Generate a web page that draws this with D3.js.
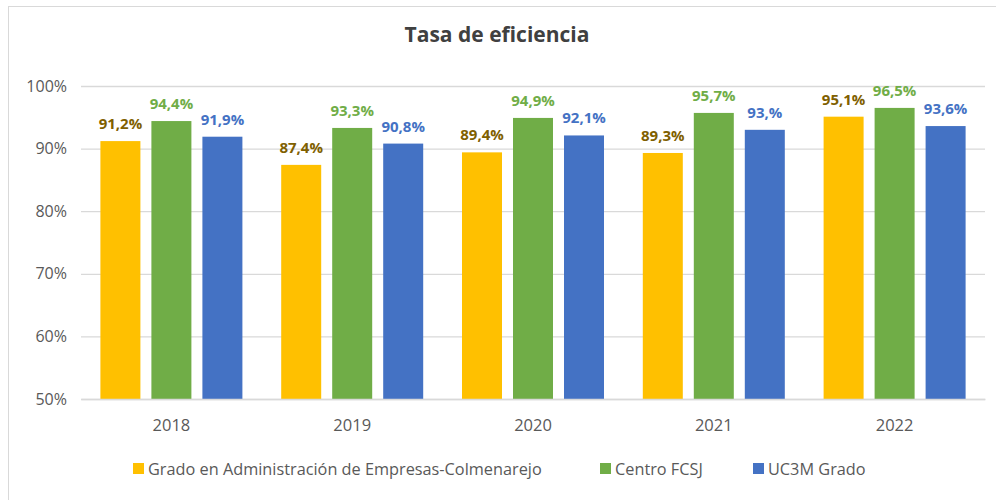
<!DOCTYPE html>
<html lang="es">
<head>
<meta charset="UTF-8">
<script src="https://d3js.org/d3.v7.min.js"></script>
<style>
  body { margin: 0; background: #fff; }
  svg { display: block; font-family: "Open Sans", "Noto Sans", sans-serif; }
</style>
</head>
<body>
<div id="chart"></div>
<script>
// datos
const years = ["2018", "2019", "2020", "2021", "2022"];
const seriesNames = ["Grado en Administración de Empresas-Colmenarejo", "Centro FCSJ", "UC3M Grado"];
const gradoADE = [91.2, 87.4, 89.4, 89.3, 95.1];
const centroFCSJ = [94.4, 93.3, 94.9, 95.7, 96.5];
const uc3mGrado = [91.9, 90.8, 92.1, 93.0, 93.6];
const labelsADE = ["91,2%", "87,4%", "89,4%", "89,3%", "95,1%"];
const labelsFCSJ = ["94,4%", "93,3%", "94,9%", "95,7%", "96,5%"];
const labelsUC3M = ["91,9%", "90,8%", "92,1%", "93,%", "93,6%"];
const yTicks = [50, 60, 70, 80, 90, 100];

const barColors = ["#ffc000", "#70ad47", "#4472c4"];
const labelColors = ["#7f6000", "#70ad47", "#4472c4"];

const W = 996, H = 500;
const plot = { left: 81, right: 985, top: 86, bottom: 399 };

const svg = d3.select("#chart").append("svg")
  .attr("width", W).attr("height", H);

// borde del gráfico
svg.append("rect")
  .attr("x", 8.5).attr("y", 6.5)
  .attr("width", W + 20).attr("height", H + 20)
  .attr("fill", "#fff").attr("stroke", "#d9d9d9");

svg.append("text")
  .attr("x", 497).attr("y", 42)
  .attr("text-anchor", "middle")
  .style("font-size", "21px").style("font-weight", "bold")
  .style("fill", "#404040")
  .text("Tasa de eficiencia");

const x0 = d3.scaleBand().domain(years).range([plot.left, plot.right]).paddingInner(0).paddingOuter(0);
const y = d3.scaleLinear().domain([50, 100]).range([plot.bottom, plot.top]);

// gridlines
const grid = svg.append("g")
  .attr("transform", `translate(${plot.left},0)`)
  .call(d3.axisLeft(y).tickValues(yTicks).tickSize(-(plot.right - plot.left)).tickFormat(d => d + "%").tickPadding(14));
grid.select(".domain").remove();
grid.selectAll(".tick line").attr("stroke", "#d9d9d9").attr("stroke-width", 1.3);
grid.selectAll(".tick text").style("font-size", "16px").style("fill", "#595959")
  .style("font-family", "'Open Sans', sans-serif");

const series = [
  { name: seriesNames[0], values: gradoADE, labels: labelsADE },
  { name: seriesNames[1], values: centroFCSJ, labels: labelsFCSJ },
  { name: seriesNames[2], values: uc3mGrado, labels: labelsUC3M }
];

const barW = 40, gap = 11;
const x1 = d3.scaleLinear().domain([0, 2]).range([-(barW + gap), barW + gap]);

series.forEach((s, si) => {
  const g = svg.append("g");
  g.selectAll("rect")
    .data(s.values)
    .join("rect")
    .attr("x", (d, i) => x0(years[i]) + x0.bandwidth() / 2 + x1(si) - barW / 2)
    .attr("y", d => y(d))
    .attr("width", barW)
    .attr("height", d => y(50) - y(d))
    .attr("fill", barColors[si]);

  g.selectAll("text")
    .data(s.values)
    .join("text")
    .attr("x", (d, i) => x0(years[i]) + x0.bandwidth() / 2 + x1(si))
    .attr("y", d => y(d) - 12)
    .attr("text-anchor", "middle")
    .style("font-size", "15px").style("font-weight", "bold")
    .style("fill", labelColors[si])
    .text((d, i) => s.labels[i]);
});

// eje x
const xAxis = svg.append("g")
  .attr("transform", `translate(0,${plot.bottom})`)
  .call(d3.axisBottom(x0).tickSize(0).tickPadding(20));
xAxis.select(".domain").attr("stroke", "#d9d9d9").attr("stroke-width", 1.3);
xAxis.selectAll("text").style("font-size", "16.5px").style("fill", "#595959")
  .style("font-family", "'Open Sans', sans-serif");

// leyenda
const legendX = [133, 600, 753];
const legend = svg.append("g");
series.forEach((s, si) => {
  legend.append("rect")
    .attr("x", legendX[si]).attr("y", 463)
    .attr("width", 11).attr("height", 11)
    .attr("fill", barColors[si]);
  legend.append("text")
    .attr("x", legendX[si] + 15).attr("y", 475)
    .style("font-size", "16.3px").style("fill", "#595959")
    .text(s.name);
});
</script>
</body>
</html>
